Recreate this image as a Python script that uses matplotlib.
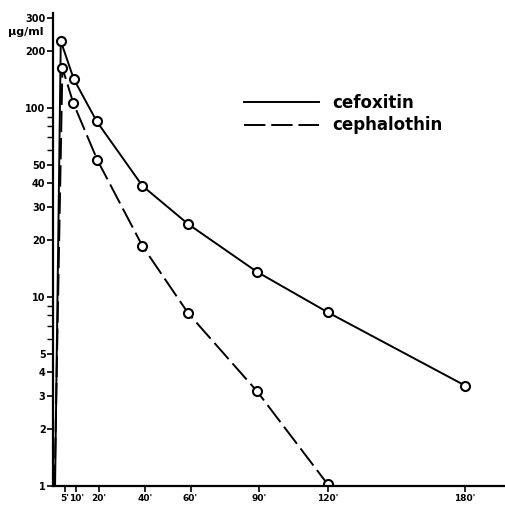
import matplotlib
matplotlib.use("Agg")
import matplotlib.pyplot as plt
from matplotlib.ticker import FixedLocator, NullFormatter

# Data (minutes, µg/ml); first point = start of the rise
cefoxitin_t = [0.8, 3.3, 9.0, 19.0, 39.0, 59.0, 89.0, 120.0, 180.0]
cefoxitin_v = [1.0, 226, 142, 85, 38.7, 24.3, 13.6, 8.3, 3.4]
cephalothin_t = [0.6, 4.0, 8.8, 19.3, 39.0, 59.0, 89.0, 120.0]
cephalothin_v = [1.0, 163, 106, 53, 18.6, 8.2, 3.18, 1.02]

x_ticks = [5, 10, 20, 40, 60, 90, 120, 180]
x_labels = ["5'", "10'", "20'", "40'", "60'", "90'", "120'", "180'"]
y_ticks = [1, 2, 3, 4, 5, 10, 20, 30, 40, 50, 100, 200, 300]
y_minor = [6, 7, 8, 9, 60, 70, 80, 90]

fig = plt.figure(figsize=(5.06, 5.05), dpi=100)
ax = fig.add_axes([0.1052, 0.0376, 0.893, 0.9366])

line_kw = dict(color="black", lw=1.4, marker="o", markersize=6.5,
               markerfacecolor="white", markeredgecolor="black",
               markeredgewidth=1.5, markevery=slice(1, None))
ax.plot(cefoxitin_t, cefoxitin_v, ls="-", label="cefoxitin", **line_kw)
ax.plot(cephalothin_t, cephalothin_v, ls=(0, (11, 3)), label="cephalothin", **line_kw)

ax.set_yscale("log")
ax.set_ylim(1, 318)
ax.set_xlim(0, 197.5)

for s in ["top", "right"]:
    ax.spines[s].set_visible(False)
for s in ["left", "bottom"]:
    ax.spines[s].set_linewidth(1.6)

ax.yaxis.set_major_locator(FixedLocator(y_ticks))
ax.yaxis.set_minor_locator(FixedLocator(y_minor))
ax.set_yticklabels([str(v) for v in y_ticks])
ax.yaxis.set_minor_formatter(NullFormatter())
ax.set_xticks(x_ticks)
ax.set_xticklabels(x_labels)

ax.tick_params(axis="both", which="major", direction="out", length=4, width=1.2,
               labelsize=7, pad=1.5)
ax.tick_params(axis="x", which="major", labelsize=6.5)
ax.tick_params(axis="y", which="minor", direction="out", length=4, width=1.0)
for lab in ax.get_xticklabels() + ax.get_yticklabels():
    lab.set_fontweight("bold")

fig.text(0.015, 0.937, "µg/ml", fontsize=8, fontweight="bold", ha="left", va="center")

leg = ax.legend(loc="upper left", bbox_to_anchor=(0.39, 0.86), frameon=False,
                handlelength=4.5, handletextpad=0.78, labelspacing=0.25,
                prop={"weight": "bold", "size": 12})
for h in leg.get_lines():
    h.set_marker("")

fig.savefig("out.png", dpi=100)
